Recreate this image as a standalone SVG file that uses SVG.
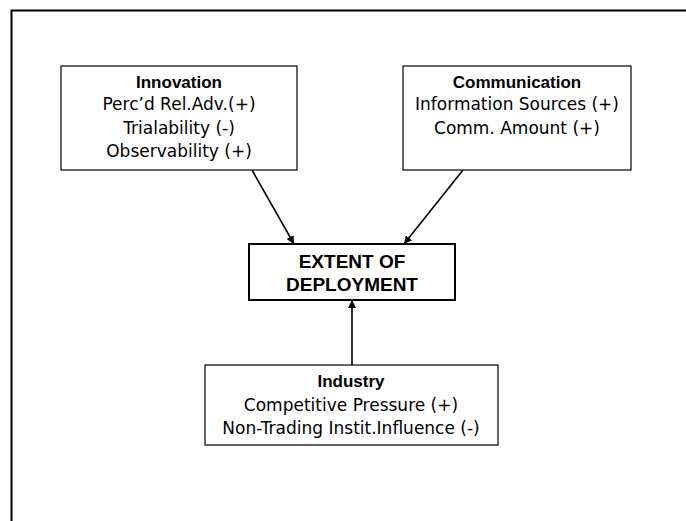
<svg xmlns="http://www.w3.org/2000/svg" width="686" height="521" viewBox="0 0 686 521">
<style>
.box{fill:#fff;stroke:#000;stroke-width:1.2}
.t{font-family:"DejaVu Sans",Verdana,sans-serif;font-size:17px;fill:#000;text-anchor:middle}
.b{font-weight:bold;font-family:"Liberation Sans",Arial,sans-serif;font-size:17px}
.big{font-family:"Liberation Sans",Arial,sans-serif;font-weight:bold;font-size:19px;text-anchor:middle;fill:#000}
.c{stroke:#000;stroke-width:1.6;fill:none}
</style>
<defs>
<marker id="ah" viewBox="0 0 10 10" refX="10" refY="5" markerWidth="8" markerHeight="8" markerUnits="userSpaceOnUse" orient="auto">
<path d="M0,0 L10,5 L0,10 Z" fill="#000"/>
</marker>
</defs>
<rect x="0" y="0" width="686" height="521" fill="#fff"/>
<path d="M11.5,530 V10.5 H700" fill="none" stroke="#000" stroke-width="2"/>
<g id="connectors">
<line class="c" x1="252" y1="170" x2="294" y2="244" marker-end="url(#ah)"/>
<line class="c" x1="463" y1="170" x2="404" y2="244" marker-end="url(#ah)"/>
<line class="c" x1="352" y1="365" x2="352" y2="300" marker-end="url(#ah)"/>
</g>
<g id="innovation">
<rect class="box" x="61" y="66" width="236" height="104"/>
<text class="t b" x="179" y="88">Innovation</text>
<text class="t" x="179" y="110">Perc’d Rel.Adv.(+)</text>
<text class="t" x="179" y="134">Trialability (-)</text>
<text class="t" x="179" y="157">Observability (+)</text>
</g>
<g id="communication">
<rect class="box" x="403" y="66" width="228" height="104"/>
<text class="t b" x="517" y="88">Communication</text>
<text class="t" x="517" y="110">Information Sources (+)</text>
<text class="t" x="517" y="134">Comm. Amount (+)</text>
</g>
<g id="extent">
<rect x="249" y="244" width="206" height="56" fill="#fff" stroke="#000" stroke-width="2"/>
<text class="big" x="352" y="268">EXTENT OF</text>
<text class="big" x="352" y="291">DEPLOYMENT</text>
</g>
<g id="industry">
<rect class="box" x="205" y="365" width="293" height="80"/>
<text class="t b" x="351" y="387">Industry</text>
<text class="t" x="351" y="411">Competitive Pressure (+)</text>
<text class="t" x="351" y="434">Non-Trading Instit.Influence (-)</text>
</g>
</svg>
